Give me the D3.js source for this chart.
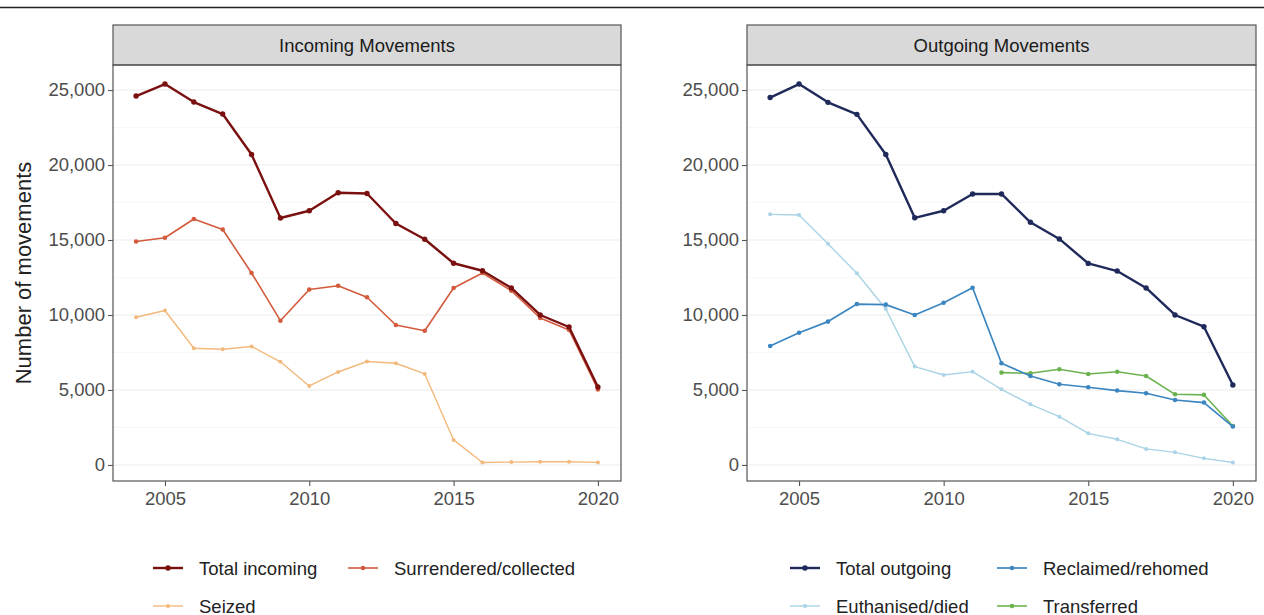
<!DOCTYPE html>
<html>
<head>
<meta charset="utf-8">
<script src="https://cdn.jsdelivr.net/npm/d3@7"></script>
<style>
  html, body { margin: 0; padding: 0; background: #fff; }
  svg { display: block; font-family: "Liberation Sans", Arial, sans-serif; }
</style>
</head>
<body>
<svg id="chart" width="1264" height="615"></svg>
<script>
// Years covered by both panels
const years = [2004, 2005, 2006, 2007, 2008, 2009, 2010, 2011, 2012, 2013, 2014, 2015, 2016, 2017, 2018, 2019, 2020];

// Incoming movements
const totalIncoming = [24600, 25400, 24200, 23400, 20700, 16470, 16950, 18150, 18100, 16100, 15050, 13450, 12950, 11800, 10000, 9200, 5200];
const surrendered   = [14900, 15150, 16400, 15700, 12800, 9620, 11700, 11950, 11180, 9330, 8950, 11800, 12800, 11620, 9800, 9000, 5030];
const seized        = [9850, 10300, 7780, 7720, 7900, 6880, 5270, 6200, 6900, 6780, 6070, 1670, 160, 190, 210, 210, 170];

// Outgoing movements
const totalOutgoing = [24500, 25400, 24180, 23380, 20700, 16480, 16950, 18070, 18070, 16180, 15070, 13440, 12930, 11800, 10000, 9220, 5330];
const reclaimed     = [7930, 8820, 9560, 10730, 10690, 10000, 10820, 11820, 6780, 5930, 5380, 5180, 4960, 4780, 4330, 4160, 2560];
const euthanised    = [16710, 16670, 14750, 12780, 10400, 6560, 6000, 6220, 5040, 4040, 3220, 2110, 1710, 1070, 840, 440, 160];
const transferYears = [2012, 2013, 2014, 2015, 2016, 2017, 2018, 2019, 2020];
const transferred   = [6160, 6110, 6380, 6070, 6220, 5930, 4710, 4670, 2600];

// Axis ticks
const yTicks = [0, 5000, 10000, 15000, 20000, 25000];
const yMinor = [2500, 7500, 12500, 17500, 22500];
const xTicks = [2005, 2010, 2015, 2020];

const panelTitles = ["Incoming Movements", "Outgoing Movements"];
const yTitle = "Number of movements";

const panels = [
  {
    title: panelTitles[0],
    left: 113, right: 621,
    series: [
      { name: "Total incoming", x: years, y: totalIncoming, color: "#7a1010", width: 2.4, r: 2.7 },
      { name: "Surrendered/collected", x: years, y: surrendered, color: "#d45a3c", width: 1.6, r: 2.3 },
      { name: "Seized", x: years, y: seized, color: "#f3b97c", width: 1.4, r: 2.0 }
    ],
    legend: { keyX: 153, col2: 348, rows: [568, 606] }
  },
  {
    title: panelTitles[1],
    left: 747, right: 1256,
    series: [
      { name: "Total outgoing", x: years, y: totalOutgoing, color: "#1f2a5a", width: 2.4, r: 2.7 },
      { name: "Reclaimed/rehomed", x: years, y: reclaimed, color: "#3b86c1", width: 1.7, r: 2.3 },
      { name: "Euthanised/died", x: years, y: euthanised, color: "#a9d3e6", width: 1.4, r: 2.0 },
      { name: "Transferred", x: transferYears, y: transferred, color: "#6cb350", width: 1.6, r: 2.3 }
    ],
    legend: { keyX: 790, col2: 997, rows: [568, 606] }
  }
];

const svg = d3.select("#chart");
const stripTop = 25, stripBottom = 65, plotBottom = 481;

// Shared vertical scale across both panels
const y = d3.scaleLinear().domain([-1070, 26670]).range([plotBottom, stripBottom]);

// Rule across the top of the figure
svg.append("line")
  .attr("x1", 0).attr("x2", 1264).attr("y1", 7.5).attr("y2", 7.5)
  .attr("stroke", "#222").attr("stroke-width", 1.5);

panels.forEach(p => {
  const x = d3.scaleLinear().domain([2003.2, 2020.8]).range([p.left, p.right]);
  const g = svg.append("g");

  // Gridlines
  g.selectAll(".minor").data(yMinor).join("line")
    .attr("x1", p.left).attr("x2", p.right)
    .attr("y1", d => y(d)).attr("y2", d => y(d))
    .attr("stroke", "#f4f4f4").attr("stroke-width", 0.7);
  g.selectAll(".major").data(yTicks).join("line")
    .attr("x1", p.left).attr("x2", p.right)
    .attr("y1", d => y(d)).attr("y2", d => y(d))
    .attr("stroke", "#ebebeb").attr("stroke-width", 1.1);

  // Strip
  g.append("rect")
    .attr("x", p.left).attr("y", stripTop)
    .attr("width", p.right - p.left).attr("height", stripBottom - stripTop)
    .attr("fill", "#d9d9d9").attr("stroke", "#555").attr("stroke-width", 1.2);
  g.append("text")
    .attr("x", (p.left + p.right) / 2).attr("y", (stripTop + stripBottom) / 2)
    .attr("text-anchor", "middle").attr("dominant-baseline", "central")
    .attr("font-size", 18.5).attr("fill", "#1a1a1a")
    .text(p.title);

  // Panel border
  g.append("rect")
    .attr("x", p.left).attr("y", stripBottom)
    .attr("width", p.right - p.left).attr("height", plotBottom - stripBottom)
    .attr("fill", "none").attr("stroke", "#555").attr("stroke-width", 1.2);

  // Axes
  const yAxis = g.append("g")
    .attr("transform", `translate(${p.left},0)`)
    .call(d3.axisLeft(y).tickValues(yTicks).tickFormat(d3.format(",")).tickSize(5).tickPadding(3));
  const xAxis = g.append("g")
    .attr("transform", `translate(0,${plotBottom})`)
    .call(d3.axisBottom(x).tickValues(xTicks).tickFormat(d3.format("d")).tickSize(5).tickPadding(6));
  [yAxis, xAxis].forEach(a => {
    a.select(".domain").remove();
    a.selectAll(".tick line").attr("stroke", "#555").attr("stroke-width", 1.1);
    a.selectAll(".tick text").attr("fill", "#4d4d4d").attr("font-size", 18.5)
      .attr("font-family", "'Liberation Sans', Arial, sans-serif");
  });

  // Lines and points, drawn lightest first so totals sit on top
  const line = d3.line().x(d => x(d[0])).y(d => y(d[1]));
  p.series.slice().reverse().forEach(s => {
    const pts = s.x.map((yr, i) => [yr, s.y[i]]);
    g.append("path").datum(pts)
      .attr("d", line).attr("fill", "none")
      .attr("stroke", s.color).attr("stroke-width", s.width)
      .attr("stroke-linejoin", "round");
    g.selectAll(null).data(pts).join("circle")
      .attr("cx", d => x(d[0])).attr("cy", d => y(d[1]))
      .attr("r", s.r).attr("fill", s.color);
  });

  // Legend in two columns
  p.series.forEach((s, i) => {
    const kx = i % 2 === 0 ? p.legend.keyX : p.legend.col2;
    const ky = p.legend.rows[Math.floor(i / 2)];
    const lg = svg.append("g");
    lg.append("line")
      .attr("x1", kx).attr("x2", kx + 30).attr("y1", ky).attr("y2", ky)
      .attr("stroke", s.color).attr("stroke-width", s.width);
    lg.append("circle").attr("cx", kx + 15).attr("cy", ky).attr("r", s.r).attr("fill", s.color);
    lg.append("text")
      .attr("x", kx + 46).attr("y", ky)
      .attr("dominant-baseline", "central")
      .attr("font-size", 18.5).attr("fill", "#222")
      .text(s.name);
  });
});

// Y-axis title
svg.append("text")
  .attr("transform", `translate(23,${(stripBottom + plotBottom) / 2}) rotate(-90)`)
  .attr("text-anchor", "middle").attr("dominant-baseline", "central")
  .attr("font-size", 22).attr("fill", "#222")
  .text(yTitle);
</script>
</body>
</html>
